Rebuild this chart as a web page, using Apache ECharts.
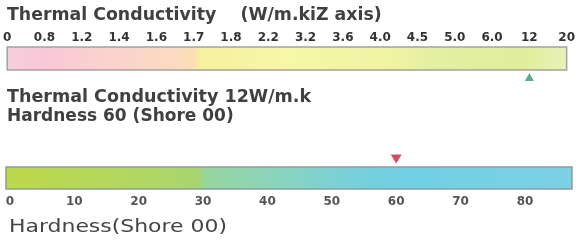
<!DOCTYPE html>
<html><head><meta charset="utf-8">
<script src="https://cdn.jsdelivr.net/npm/echarts@6/dist/echarts.min.js"></script>
<style>html,body{margin:0;padding:0;background:#fff}#c{width:578px;height:240px}</style>
</head><body><div id="c"></div>
<script>
// ---- data ----
const tcTickLabels = ['0','0.8','1.2','1.4','1.6','1.7','1.8','2.2','3.2','3.6','4.0','4.5','5.0','6.0','12','20'];
const tcValue = '12';
const hardnessTicks = [0, 10, 20, 30, 40, 50, 60, 70, 80];
const hardnessValue = 60;
const titleText = 'Thermal Conductivity    (W/m.kiZ axis)';
const infoLines = ['Thermal Conductivity 12W/m.k', 'Hardness 60 (Shore 00)'];
const hardnessAxisName = 'Hardness(Shore 00)';

const chart = echarts.init(document.getElementById('c'), null, {renderer: 'canvas'});

function bandItem(colorStops, border) {
  return function (params, api) {
    const cs = params.coordSys;
    return {
      type: 'rect',
      shape: {x: cs.x, y: cs.y, width: cs.width, height: cs.height},
      style: {
        fill: {type: 'linear', x: 0, y: 0, x2: 1, y2: 0, colorStops: colorStops},
        stroke: border, lineWidth: 1.5
      }
    };
  };
}

const topStops = [
  {offset: 0, color: '#f4d0da'}, {offset: 0.06, color: '#f9c8d8'},
  {offset: 0.2, color: '#fbd3cc'}, {offset: 0.3, color: '#fbdbc0'},
  {offset: 0.335, color: '#fcdeb4'}, {offset: 0.345, color: '#f5f19c'},
  {offset: 0.5, color: '#f7f7a8'}, {offset: 0.7, color: '#eef3a2'},
  {offset: 0.75, color: '#e4efa2'}, {offset: 0.92, color: '#e0ee9a'},
  {offset: 1, color: '#e9f2b8'}
];
const botStops = [
  {offset: 0, color: '#bcd94a'}, {offset: 0.2, color: '#b4d85e'},
  {offset: 0.34, color: '#a8d570'}, {offset: 0.352, color: '#97d69c'},
  {offset: 0.45, color: '#8dd5b6'}, {offset: 0.6, color: '#79d1d8'},
  {offset: 0.7, color: '#71cfe4'}, {offset: 1, color: '#7cd1e3'}
];

chart.setOption({
  animation: false,
  grid: [
    {left: 6, right: 11, top: 47, height: 23},
    {left: 6, right: 6, top: 167, height: 22}
  ],
  xAxis: [
    {
      type: 'category', gridIndex: 0, position: 'top', data: tcTickLabels,
      boundaryGap: false,
      axisLine: {show: false}, axisTick: {show: false}, splitLine: {show: false},
      axisLabel: {interval: 0, margin: 3, color: '#333', fontFamily: 'DejaVu Sans', fontWeight: 'bold', fontSize: 12}
    },
    {
      type: 'value', gridIndex: 1, min: -0.6, max: 87.3,
      axisLine: {show: false}, axisTick: {show: false}, splitLine: {show: false},
      axisLabel: {customValues: hardnessTicks, margin: 7, color: '#555', fontFamily: 'DejaVu Sans', fontWeight: 'bold', fontSize: 12}
    }
  ],
  yAxis: [
    {type: 'value', gridIndex: 0, min: 0, max: 1, show: false},
    {type: 'value', gridIndex: 1, min: 0, max: 1, show: false}
  ],
  graphic: [
    {type: 'text', x: 7, y: 7, scaleX: 1.02, style: {text: titleText, font: 'bold 17px "DejaVu Sans"', fill: '#404040'}},
    {type: 'text', x: 7, y: 89, scaleX: 1.03, style: {text: infoLines[0], font: 'bold 17px "DejaVu Sans"', fill: '#404040'}},
    {type: 'text', x: 7, y: 108, scaleX: 1.0, style: {text: infoLines[1], font: 'bold 17px "DejaVu Sans"', fill: '#404040'}},
    {type: 'text', x: 9, y: 219, scaleX: 1.29, style: {text: hardnessAxisName, font: '17px "DejaVu Sans"', fill: '#444'}}
  ],
  series: [
    {type: 'custom', xAxisIndex: 0, yAxisIndex: 0, renderItem: bandItem(topStops, '#a3a3a3'), data: [[tcTickLabels[0], 0]], z: 1},
    {type: 'custom', xAxisIndex: 1, yAxisIndex: 1, renderItem: bandItem(botStops, '#8e9c9c'), data: [[hardnessTicks[0], 0]], z: 1},
    {type: 'scatter', xAxisIndex: 0, yAxisIndex: 0, data: [[tcValue, 0]], symbol: 'triangle',
     symbolSize: [9, 8], symbolOffset: [0, 7], itemStyle: {color: '#2f9a6a'}, clip: false, z: 5},
    {type: 'scatter', xAxisIndex: 1, yAxisIndex: 1, data: [[hardnessValue, 1]], symbol: 'triangle', symbolRotate: 180,
     symbolSize: [11, 9], symbolOffset: [0, -8], itemStyle: {color: '#c0203f'}, clip: false, z: 5}
  ]
});
</script></body></html>
